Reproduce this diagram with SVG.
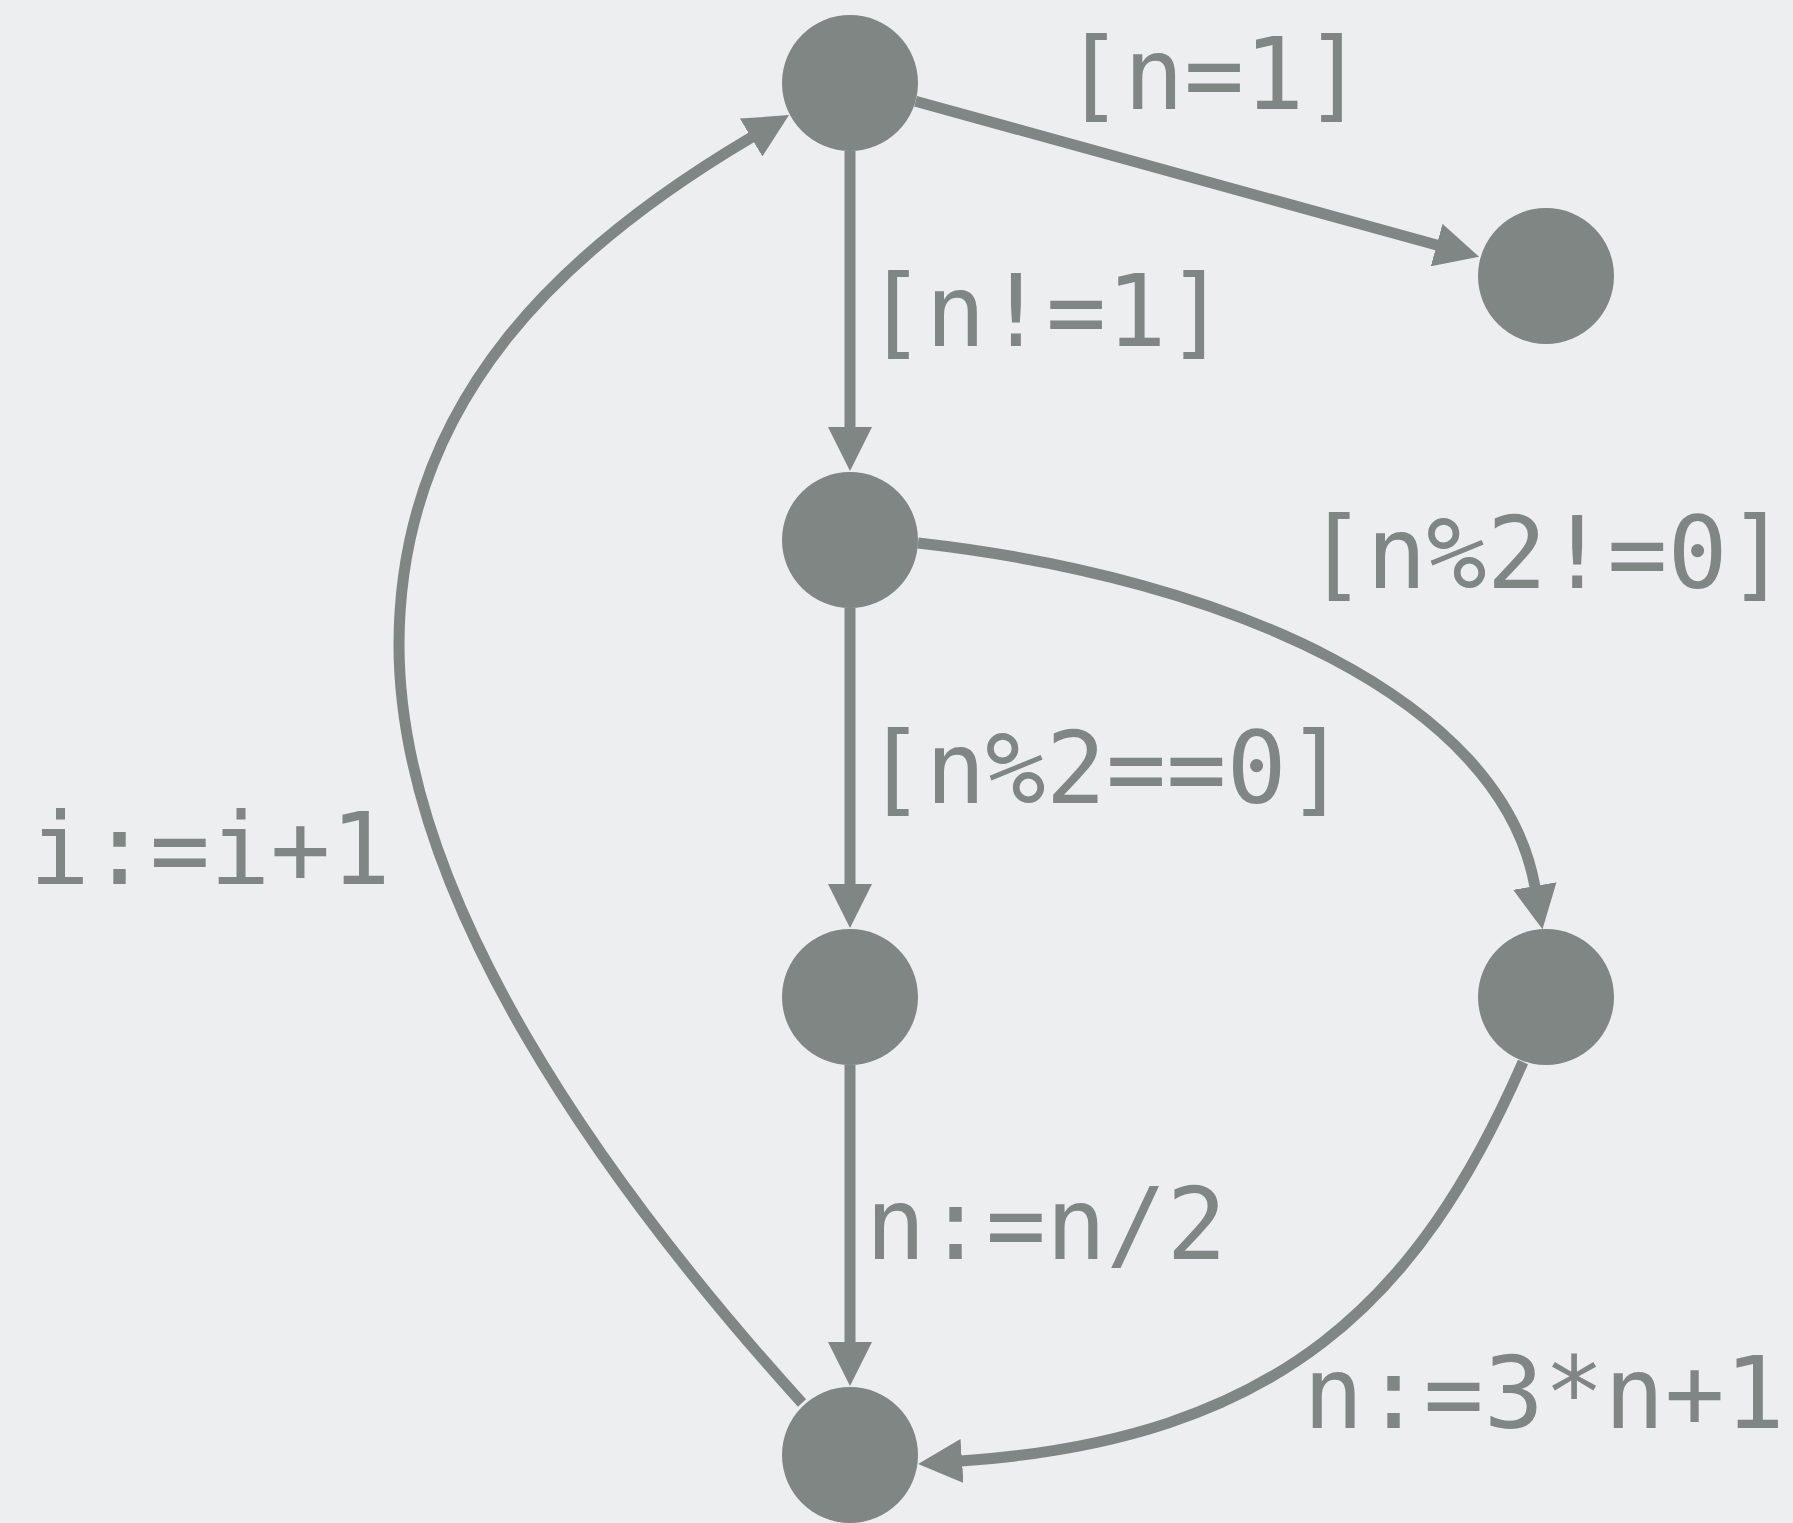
<svg xmlns="http://www.w3.org/2000/svg" width="1793" height="1523" viewBox="0 0 1793 1523">
  <style>
    .node { fill: #808683; }
    .edge { fill: none; stroke: #808683; stroke-width: 11; }
    .lbl { font-family: "DejaVu Sans Mono", "Liberation Mono", monospace; font-size: 100px; fill: #808683; text-anchor: middle; }
  </style>
  <defs>
    <marker id="ah" viewBox="0 0 44 44" markerWidth="44" markerHeight="44" refX="1" refY="22" orient="auto" markerUnits="userSpaceOnUse">
      <path d="M0,0 L44,22 L0,44 z" fill="#808683"/>
    </marker>
  </defs>
  <rect x="0" y="0" width="1793" height="1523" fill="#eceef0"/>

  <g id="connectors">
    <path id="e-top-final" class="edge" d="M915.6,101.2 L1437.6,245.3" marker-end="url(#ah)"/>
    <path id="e-top-check" class="edge" d="M850,151 L850,428" marker-end="url(#ah)"/>
    <path id="e-check-even" class="edge" d="M850,608 L850,885" marker-end="url(#ah)"/>
    <path id="e-even-inc" class="edge" d="M850,1065 L850,1343" marker-end="url(#ah)"/>
    <path id="e-check-odd" class="edge" d="M918,543 C1230,578 1502,700 1535,887" marker-end="url(#ah)"/>
    <path id="e-odd-inc" class="edge" d="M1523,1062 C1419,1300 1280,1439 961,1461" marker-end="url(#ah)"/>
    <path id="e-inc-top" class="edge" d="M802,1403 C601,1181 399,895 399,645 C399,395 571,244 752,137" marker-end="url(#ah)"/>
  </g>

  <g id="labels">
    <text class="lbl" x="1214" y="109">[n=1]</text>
    <text class="lbl" x="1046" y="346">[n!=1]</text>
    <text class="lbl" x="1547" y="588">[n%2!=0]</text>
    <text class="lbl" x="1106" y="803">[n%2==0]</text>
    <text class="lbl" x="210" y="884">i:=i+1</text>
    <text class="lbl" x="1046" y="1259">n:=n/2</text>
    <text class="lbl" x="1544" y="1428">n:=3*n+1</text>
  </g>

  <g id="node-top"><circle class="node" cx="850" cy="83" r="68"/></g>
  <g id="node-final"><circle class="node" cx="1546" cy="276" r="68"/></g>
  <g id="node-check"><circle class="node" cx="850" cy="540" r="68"/></g>
  <g id="node-even"><circle class="node" cx="850" cy="997" r="68"/></g>
  <g id="node-odd"><circle class="node" cx="1546" cy="997" r="68"/></g>
  <g id="node-inc"><circle class="node" cx="850" cy="1455" r="68"/></g>
</svg>
